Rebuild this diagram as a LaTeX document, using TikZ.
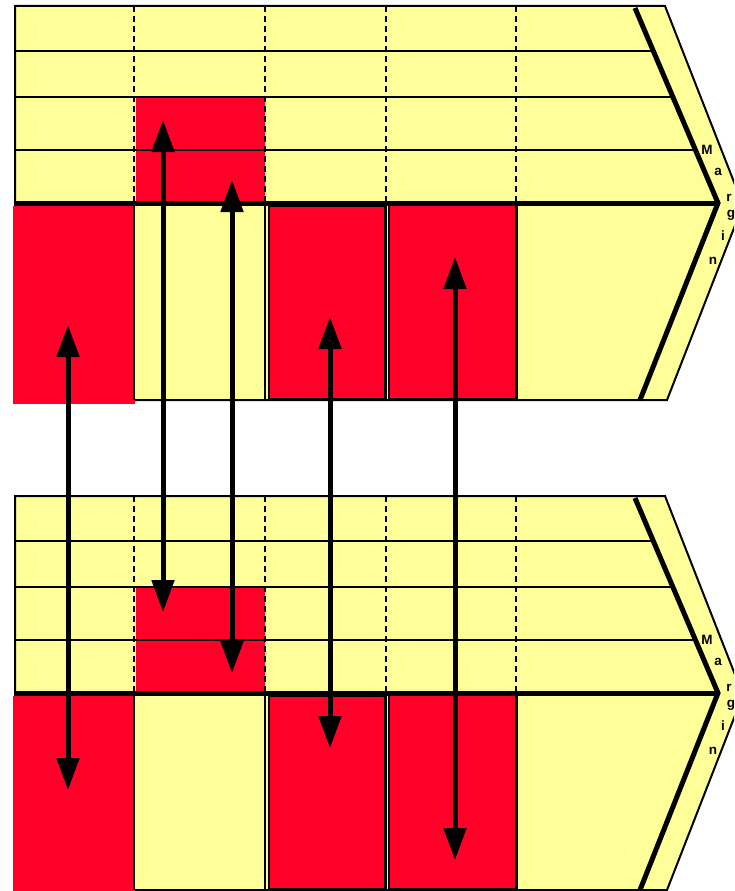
\documentclass[tikz,border=0pt]{standalone}
\usepackage{fontspec}
\setsansfont{Liberation Sans}
\usetikzlibrary{arrows.meta}
\definecolor{chartyellow}{RGB}{255,255,153}
\definecolor{chartred}{RGB}{255,0,40}

\begin{document}
\begin{tikzpicture}[x=1pt,y=-1pt,
  thinline/.style={line width=2pt},
  thickline/.style={line width=5pt},
  divline/.style={line width=2.2pt,dash pattern=on 6pt off 4pt},
  boxcell/.style={fill=chartred,draw=black,line width=2.5pt},
  linkarrow/.style={line width=5pt,{Triangle[length=32pt,width=22pt]}-{Triangle[length=32pt,width=22pt]}},
  letter/.style={font=\sffamily\bfseries\fontsize{13.5}{13.5}\selectfont,inner sep=0pt,anchor=base}]
  \useasboundingbox (0,0) rectangle (734,891);
  \clip (0,0) rectangle (734,891);

  % the two value chains
  \foreach \oy in {0,490} {
  \begin{scope}[shift={(0,\oy)}]
    \draw[thinline,fill=chartyellow] (15,6) -- (665,6) -- (743,205) -- (667,400) -- (15,400) -- cycle;
    % red cells
    \fill[chartred] (136,97) rectangle (265,201);
    \fill[chartred] (13,206) rectangle (135,404);
    \draw[boxcell] (269,206) rectangle (385,399);
    \draw[boxcell] (389,205) rectangle (517,399);
    % support rows
    \foreach \ly/\lx in {51/653,97/673,150/695}
      \draw[thinline] (15,\ly) -- (\lx,\ly);
    \foreach \dx in {134,265,386,516}
      \draw[divline] (\dx,6) -- (\dx,203);
    % primary columns
    \foreach \dx in {134,265,386,516}
      \draw[thinline] (\dx,203) -- (\dx,400);
    \draw[thickline] (15,203) -- (718,203);
    \draw[thickline] (635,8) -- (718,203) -- (640,400);
    % margin
    \foreach \ch/\lx/\ly [count=\k] in {M/707/154,a/718/175,r/729/201,g/731/217,i/723/240,n/713/264}
      \node[letter] (m\oy-\k) at (\lx,\ly) {\ch};
  \end{scope}
  }

  % links between the chains
  \foreach \ax/\ya/\yb [count=\i] in {68/325/790,163/120/612,232/180/673,330/317/748,455/257/860} {
    \coordinate (up\i) at (\ax,\ya);
    \coordinate (dn\i) at (\ax,\yb);
    \draw[linkarrow] (up\i) -- (dn\i);
  }
\end{tikzpicture}
\end{document}
